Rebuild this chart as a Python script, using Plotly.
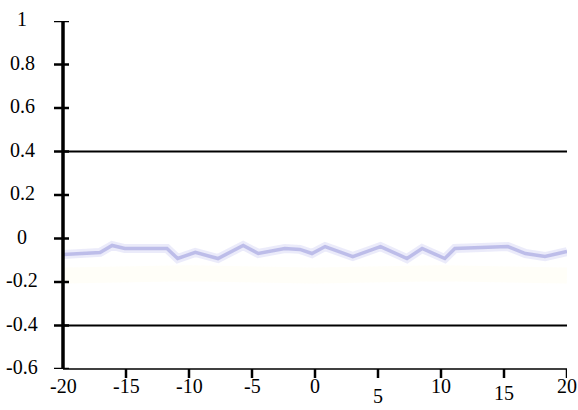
import plotly.graph_objects as go

# ---- data ----
x_vals = [-20, -18.25, -17.06, -16.1, -15.1, -11.75, -10.9, -9.5, -7.7, -5.7, -4.5,
          -2.4, -1.2, -0.24, 0.8, 3.0, 5.2, 7.3, 8.5, 10.3, 11.1, 15.3, 16.7, 18.25, 20]
y_vals = [-0.074, -0.069, -0.064, -0.032, -0.046, -0.046, -0.092, -0.064, -0.092, -0.032, -0.069,
          -0.046, -0.05, -0.069, -0.037, -0.083, -0.037, -0.092, -0.046, -0.092, -0.046, -0.037,
          -0.069, -0.083, -0.06]
faint_x = [-20, -10, 0, 10, 20]
faint_y = [-0.17, -0.16, -0.17, -0.16, -0.17]

x_ticks = [-20, -15, -10, -5, 0, 5, 10, 15, 20]
x_labels = ["-20", "-15", "-10", "-5", "0", "5", "10", "15", "20"]
x_label_drop = [0, 0, 0, 0, 0, 10, 0, 7, 0]
y_ticks = [1, 0.8, 0.6, 0.4, 0.2, 0, -0.2, -0.4, -0.6]
y_labels = ["1", "0.8", "0.6", "0.4", "0.2", "0", "-0.2", "-0.4", "-0.6"]
ref_lines = [0.4, -0.4]

XMIN, XMAX = -20, 20
YMIN, YMAX = -0.6, 1
FONT = "Liberation Serif"

fig = go.Figure()
fig.add_trace(go.Scatter(x=faint_x, y=faint_y, mode="lines",
                         line=dict(color="rgba(255,248,215,0.18)", width=16),
                         hoverinfo="skip", showlegend=False))
fig.add_trace(go.Scatter(x=x_vals, y=y_vals, mode="lines",
                         line=dict(color="rgba(190,190,240,0.3)", width=9),
                         hoverinfo="skip", showlegend=False))
fig.add_trace(go.Scatter(x=x_vals, y=y_vals, mode="lines",
                         line=dict(color="rgba(165,165,225,0.65)", width=3.5),
                         showlegend=False))

shapes = []
for v in ref_lines:
    shapes.append(dict(type="line", xref="paper", yref="y", x0=0, x1=1, y0=v, y1=v,
                       line=dict(color="black", width=2), layer="above"))
for v in y_ticks:
    shapes.append(dict(type="line", xref="paper", yref="y", xsizemode="pixel", xanchor=0,
                       x0=-9, x1=6, y0=v, y1=v, line=dict(color="black", width=2.5)))
for v in x_ticks[1:]:
    shapes.append(dict(type="line", xref="x", yref="paper", ysizemode="pixel", yanchor=0,
                       x0=v, x1=v, y0=0, y1=-9, line=dict(color="black", width=2.5)))
shapes.append(dict(type="line", xref="paper", yref="paper", x0=0, x1=0, y0=0, y1=1,
                   line=dict(color="black", width=3.5)))
shapes.append(dict(type="line", xref="paper", yref="paper", x0=0, x1=1, y0=0, y1=0,
                   line=dict(color="black", width=1.5)))

annotations = []
for v, t in zip(y_ticks, y_labels):
    annotations.append(dict(x=0, y=v, xref="paper", yref="y", text=t, showarrow=False,
                            xanchor="center", yanchor="middle", xshift=-41, yshift=2,
                            font=dict(family=FONT, size=20, color="black")))
for v, t, d in zip(x_ticks, x_labels, x_label_drop):
    annotations.append(dict(x=v, y=0, xref="x", yref="paper", text=t, showarrow=False,
                            xanchor="center", yanchor="middle", yshift=-17 - d,
                            font=dict(family=FONT, size=20, color="black")))

fig.update_layout(
    width=578, height=410,
    margin=dict(l=63, r=11, t=21, b=41),
    paper_bgcolor="white", plot_bgcolor="white",
    font=dict(family=FONT),
    xaxis=dict(range=[XMIN, XMAX], showgrid=False, zeroline=False, showticklabels=False,
               showline=False, ticks=""),
    yaxis=dict(range=[YMIN, YMAX], showgrid=False, zeroline=False, showticklabels=False,
               showline=False, ticks=""),
    shapes=shapes, annotations=annotations, showlegend=False,
)

fig.write_html("out.html", config={"displayModeBar": False},
               post_script="document.body.style.margin='0';document.body.style.overflow='hidden';")
